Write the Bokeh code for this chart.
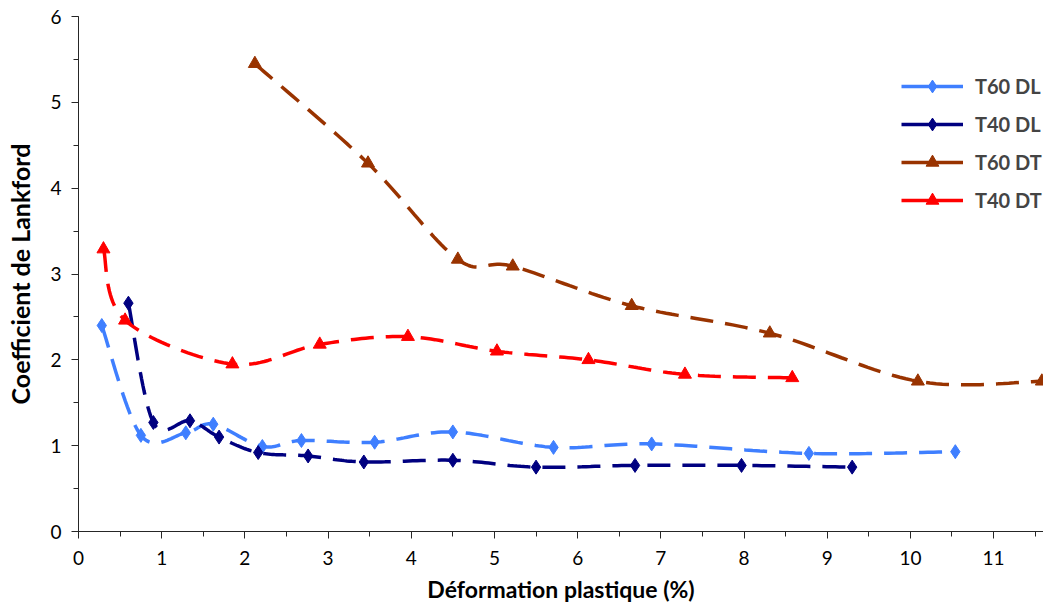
import numpy as np
from bokeh.plotting import figure
from bokeh.models import Range1d, Legend, LegendItem, ColumnDataSource, FixedTicker
from bokeh.embed import file_html
from bokeh.resources import INLINE

# ---- data ----
t60dl_x = [0.28, 0.75, 1.29, 1.62, 2.21, 2.68, 3.56, 4.50, 5.71, 6.89, 8.78, 10.54]
t60dl_y = [2.40, 1.12, 1.15, 1.25, 0.99, 1.06, 1.04, 1.16, 0.98, 1.02, 0.91, 0.93]

t40dl_x = [0.60, 0.90, 1.34, 1.69, 2.16, 2.76, 3.43, 4.50, 5.50, 6.69, 7.97, 9.30]
t40dl_y = [2.66, 1.27, 1.29, 1.10, 0.92, 0.88, 0.81, 0.83, 0.75, 0.77, 0.77, 0.75]

t60dt_x = [2.12, 3.48, 4.56, 5.22, 6.65, 8.31, 10.09, 11.58]
t60dt_y = [5.45, 4.29, 3.17, 3.09, 2.63, 2.31, 1.75, 1.75]

t40dt_x = [0.30, 0.56, 1.85, 2.90, 3.96, 5.03, 6.13, 7.29, 8.58]
t40dt_y = [3.29, 2.46, 1.95, 2.18, 2.27, 2.10, 2.00, 1.83, 1.79]

names = ["T60 DL", "T40 DL", "T60 DT", "T40 DT"]
colors = ["#3F7FFF", "#000080", "#993300", "#FF0000"]
markers = ["diamond", "diamond", "triangle", "triangle"]
series = [(t60dl_x, t60dl_y), (t40dl_x, t40dl_y), (t60dt_x, t60dt_y), (t40dt_x, t40dt_y)]


def smooth(xs, ys, n=24):
    """Excel-like smoothed line: Catmull-Rom cubic Bezier through the points."""
    P = np.column_stack([xs, ys]).astype(float)
    out = [P[0]]
    m = len(P)
    t = np.linspace(0, 1, n)[1:, None]
    for i in range(m - 1):
        p0 = P[i - 1] if i > 0 else P[i]
        p1, p2 = P[i], P[i + 1]
        p3 = P[i + 2] if i + 2 < m else P[i + 1]
        c1 = p1 + (p2 - p0) / 6.0
        c2 = p2 - (p3 - p1) / 6.0
        seg = ((1 - t) ** 3) * p1 + 3 * ((1 - t) ** 2) * t * c1 + 3 * (1 - t) * t ** 2 * c2 + t ** 3 * p2
        out.extend(seg)
    out = np.array(out)
    return out[:, 0], out[:, 1]


FONT = "Lato"

p = figure(width=1043, height=605, output_backend="svg", toolbar_location=None,
           x_range=Range1d(0, 11.6), y_range=Range1d(0, 6))
p.min_border_left = 78
p.min_border_right = 0
p.min_border_top = 16
p.min_border_bottom = 71
p.outline_line_color = None
p.xgrid.visible = False
p.ygrid.visible = False
p.background_fill_color = "white"
p.border_fill_color = "white"

for ax in (p.xaxis[0], p.yaxis[0]):
    ax.axis_line_color = "#262626"
    ax.major_tick_line_color = "#262626"
    ax.minor_tick_line_color = "#262626"
    ax.major_tick_in = 0
    ax.major_tick_out = 7
    ax.minor_tick_in = 0
    ax.minor_tick_out = 5
    ax.major_label_text_font = FONT
    ax.major_label_text_font_size = "19px"
    ax.major_label_text_color = "#000000"
    ax.axis_label_text_font = FONT
    ax.axis_label_text_font_style = "bold"
    ax.axis_label_text_color = "#000000"

p.xaxis.ticker = FixedTicker(ticks=list(range(0, 12)),
                             minor_ticks=[i * 0.5 for i in range(0, 24)])
p.yaxis.ticker = FixedTicker(ticks=list(range(0, 7)),
                             minor_ticks=[i * 0.5 for i in range(0, 13)])
p.xaxis.major_label_standoff = 12
p.yaxis.major_label_standoff = 10
p.xaxis.axis_label = "Déformation plastique (%)"
p.yaxis.axis_label = "Coefficient de Lankford"
p.xaxis.axis_label_text_font_size = "23px"
p.yaxis.axis_label_text_font_size = "25px"
p.xaxis.axis_label_standoff = 7
p.yaxis.axis_label_standoff = 12

items = []
for (xs, ys), name, col, mk in zip(series, names, colors, markers):
    sx, sy = smooth(xs, ys)
    size = 14 if mk == "diamond" else 13
    p.line(sx, sy, line_color=col, line_width=3.5, line_dash="23 12")
    p.scatter(xs, ys, marker=mk, size=size, fill_color=col, line_color=col)
    # legend-only renderers (solid line + marker), placed outside the visible range
    src = ColumnDataSource(data=dict(x=[-100], y=[-100]))
    lr = p.line("x", "y", source=src, line_color=col, line_width=3.5)
    mr = p.scatter("x", "y", source=src, marker=mk, size=size,
                   fill_color=col, line_color=col)
    items.append(LegendItem(label=name, renderers=[lr, mr]))

legend = Legend(items=items, location=(823, 315))
legend.border_line_color = None
legend.background_fill_alpha = 0
legend.label_text_font = FONT
legend.label_text_font_style = "bold"
legend.label_text_font_size = "20px"
legend.glyph_width = 62
legend.glyph_height = 32
legend.label_height = 32
legend.spacing = 6
legend.label_standoff = 12
legend.padding = 0
p.add_layout(legend)

open("out.html", "w").write(file_html(p, INLINE))
